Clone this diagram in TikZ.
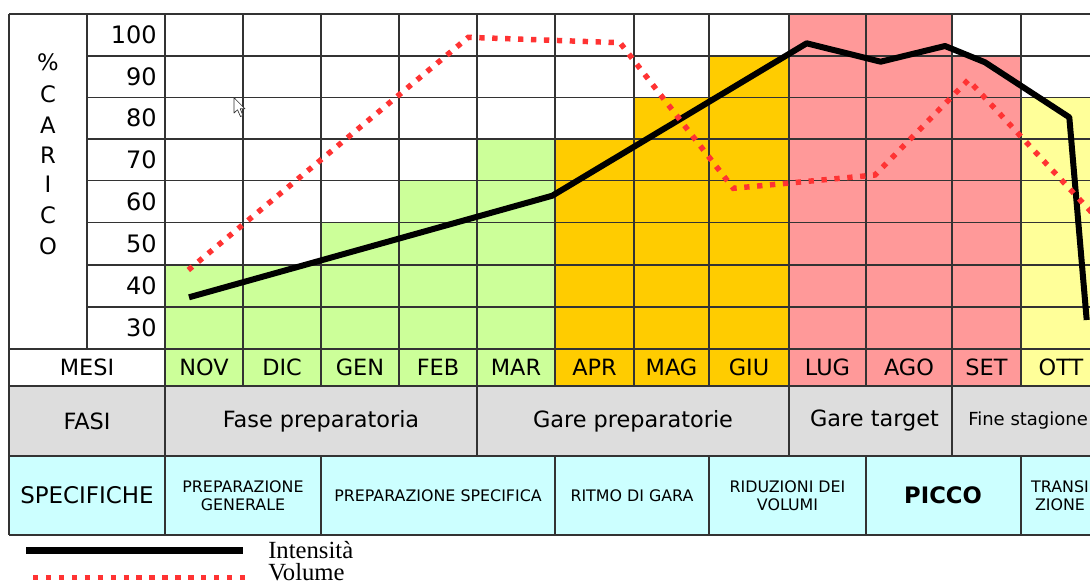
\documentclass[tikz,border=0pt]{standalone}
\usepackage{fontspec}
\setmainfont{DejaVu Sans}
\newfontfamily\legfont{Liberation Serif}
\definecolor{cgreen}{HTML}{CCFF99}
\definecolor{corange}{HTML}{FFCC00}
\definecolor{cpink}{HTML}{FF9999}
\definecolor{cyellow}{HTML}{FFFF99}
\definecolor{cgray}{HTML}{DDDDDD}
\definecolor{ccyan}{HTML}{CCFFFF}
\definecolor{cred}{HTML}{FF3333}
\definecolor{cgrid}{HTML}{333333}
\begin{document}
\begin{tikzpicture}[x=0.75pt,y=-0.75pt,
  gridline/.style={draw=cgrid,line width=0.9pt},
  numlbl/.style={anchor=east,inner sep=0pt,font=\fontsize{18}{20}\selectfont},
  letter/.style={inner sep=0pt,font=\fontsize{17}{20}\selectfont},
  mon/.style={inner sep=0pt,font=\fontsize{16.8}{20}\selectfont},
  smalltxt/.style={inner sep=0pt,align=center,font=\fontsize{11.9}{13.5}\selectfont},
  intens/.style={draw=black,line width=4.5pt,line join=round},
  volume/.style={draw=cred,line width=4.1pt,dash pattern=on 4pt off 5.7pt},
  legtxt/.style={anchor=base west,inner sep=0pt,font=\legfont\fontsize{18.5}{21}\selectfont}]
\useasboundingbox (0,0) rectangle (1090,587);
\begin{scope}
\clip (0,0) rectangle (1090,587);
% fills
\fill[cgreen] (165,265) rectangle (243,386);
\fill[cgreen] (243,265) rectangle (321,386);
\fill[cgreen] (321,222.5) rectangle (399,386);
\fill[cgreen] (399,180.5) rectangle (477,386);
\fill[cgreen] (477,139) rectangle (555,386);
\fill[corange] (555,139) rectangle (634,386);
\fill[corange] (634,97.5) rectangle (709,386);
\fill[corange] (709,56) rectangle (789,386);
\fill[cpink] (789,14) rectangle (866,386);
\fill[cpink] (866,14) rectangle (952,386);
\fill[cpink] (952,56) rectangle (1021,386);
\fill[cyellow] (1021,97.5) rectangle (1100,386);
\fill[cgray] (9,386) rectangle (1100,456);
\fill[ccyan] (9,456) rectangle (1100,535);
% horizontal lines
\foreach \y in {56,97.5,139,180.5,222.5,265,307}
  \draw[gridline] (87,\y) -- (1100,\y);
\foreach \y in {14,349,386,456,535}
  \draw[gridline] (9,\y) -- (1100,\y);
% vertical lines
\draw[gridline] (9,14) -- (9,535);
\draw[gridline] (87,14) -- (87,349);
\draw[gridline] (165,14) -- (165,535);
\foreach \x in {243,321,399,477,555,634,709,789,866,952,1021}
  \draw[gridline] (\x,14) -- (\x,386);
\foreach \x in {477,789,952}
  \draw[gridline] (\x,386) -- (\x,456);
\foreach \x in {321,555,709,866,1021}
  \draw[gridline] (\x,456) -- (\x,535);
% axis numbers
\node[numlbl] (n100) at (157,35) {100};
\node[numlbl] (n90) at (157,76.5) {90};
\node[numlbl] (n80) at (157,118) {80};
\node[numlbl] (n70) at (157,159.5) {70};
\node[numlbl] (n60) at (157,201.5) {60};
\node[numlbl] (n50) at (157,243.5) {50};
\node[numlbl] (n40) at (157,286) {40};
\node[numlbl] (n30) at (157,328) {30};
% %CARICO
\node[letter] (l1) at (48,62) {\%};
\node[letter] (l2) at (48,94) {C};
\node[letter] (l3) at (48,125) {A};
\node[letter] (l4) at (48,155.5) {R};
\node[letter] (l5) at (48,184) {I};
\node[letter] (l6) at (48,215) {C};
\node[letter] (l7) at (48,246) {O};
% months
\node[mon] (mesi) at (87,367.5) {MESI};
\node[mon] (m1) at (204,367.5) {NOV};
\node[mon] (m2) at (282,367.5) {DIC};
\node[mon] (m3) at (360,367.5) {GEN};
\node[mon] (m4) at (438,367.5) {FEB};
\node[mon] (m5) at (516,367.5) {MAR};
\node[mon] (m6) at (594.5,367.5) {APR};
\node[mon] (m7) at (671.5,367.5) {MAG};
\node[mon] (m8) at (749,367.5) {GIU};
\node[mon] (m9) at (827.5,367.5) {LUG};
\node[mon] (m10) at (909,367.5) {AGO};
\node[mon] (m11) at (986.5,367.5) {SET};
\node[mon] (m12) at (1061,367.5) {OTT};
% fasi
\node[mon] (fasi) at (87,421) {FASI};
\node[mon] (f1) at (321,421) {Fase preparatoria};
\node[mon] (f2) at (633,421) {Gare preparatorie};
\node[mon] (f3) at (874.5,421) {Gare target};
\node[anchor=west,inner sep=0pt,font=\fontsize{13.5}{16}\selectfont] (f4) at (968,421) {Fine stagione};
% specifiche
\node[mon,font=\fontsize{17.2}{20}\selectfont] (spec) at (87,495) {SPECIFICHE};
\node[smalltxt] (s1) at (243,495.5) {PREPARAZIONE\\GENERALE};
\node[smalltxt] (s2) at (438,495.5) {PREPARAZIONE SPECIFICA};
\node[smalltxt] (s3) at (632,495.5) {RITMO DI GARA};
\node[smalltxt] (s4) at (787.5,495.5) {RIDUZIONI DEI\\VOLUMI};
\node[inner sep=0pt,font=\bfseries\fontsize{17}{20}\selectfont] (s5) at (943,495.5) {PICCO};
\node[smalltxt] (s6) at (1060,495.5) {TRANSI\\ZIONE};
% curves
\coordinate (i1) at (189,297.3);
\coordinate (i2) at (552.3,195.7);
\coordinate (i3) at (806.7,43.3);
\coordinate (i4) at (880.7,61.7);
\coordinate (i5) at (945,46);
\coordinate (i6) at (985,62.3);
\coordinate (i7) at (1069.3,117.3);
\coordinate (i8) at (1086.7,320);
\draw[intens] (i1) -- (i2) -- (i3) -- (i4) -- (i5) -- (i6) -- (i7) -- (i8);
\coordinate (v1) at (188.3,270);
\coordinate (v2) at (468.3,37.3);
\coordinate (v3) at (620,42.7);
\coordinate (v4) at (733.3,188.3);
\coordinate (v5) at (875,175);
\coordinate (v6) at (968.3,80);
\coordinate (v7) at (1095,216);
\draw[volume] (v1) -- (v2) -- (v3) -- (v4) -- (v5) -- (v6) -- (v7);
% cursor
\draw[fill=white,draw=cgrid,line width=0.5pt,line join=round]
  (234,97.7) -- (234,113) -- (237.5,109.8) -- (240.5,116.5) -- (243,115.5) -- (240.2,108.8) -- (245,108.8) -- cycle;
% legend
\coordinate (la1) at (26,550.7);
\coordinate (la2) at (243,550.7);
\draw[intens,line width=5pt] (la1) -- (la2);
\coordinate (lb1) at (33,577.5);
\coordinate (lb2) at (250,577.5);
\draw[volume] (lb1) -- (lb2);
\node[legtxt] (lt1) at (268,558) {Intensità};
\node[legtxt] (lt2) at (268,580.5) {Volume};
\end{scope}
\end{tikzpicture}
\end{document}
